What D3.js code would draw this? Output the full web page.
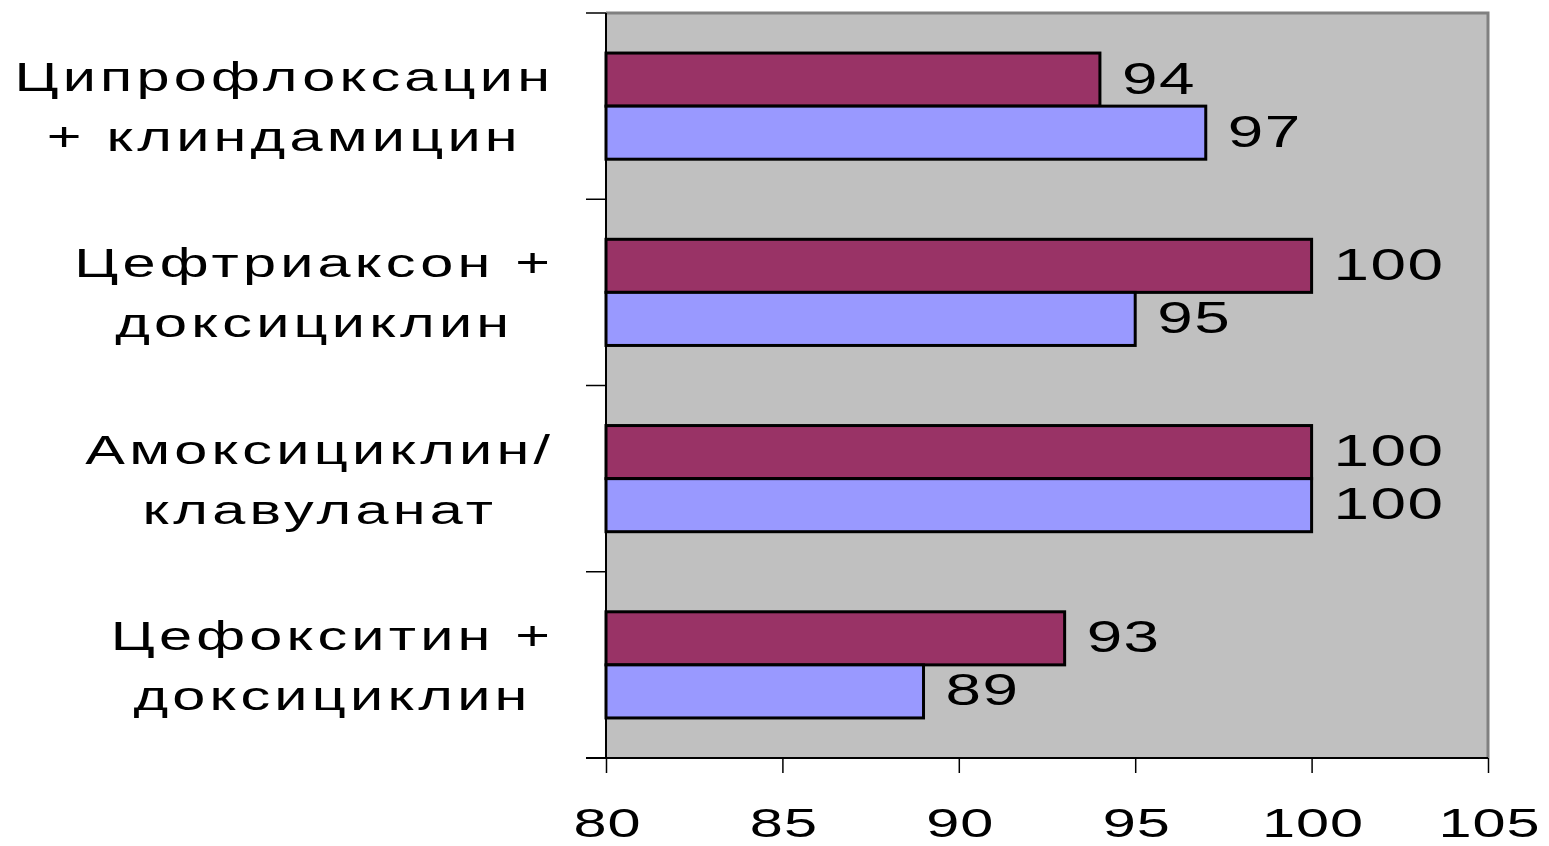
<!DOCTYPE html>
<html>
<head>
<meta charset="utf-8">
<script src="https://cdn.jsdelivr.net/npm/d3@7"></script>
<style>
  html, body { margin: 0; padding: 0; background: #ffffff; }
  svg { display: block; }
  text { font-family: Arial, "Liberation Sans", sans-serif; fill: #000; }
</style>
</head>
<body>
<svg id="chart" width="1549" height="846"></svg>
<script>
// Regimens (each label is split over two lines)
const categories = [
  ["Ципрофлоксацин", "+ клиндамицин"],
  ["Цефтриаксон +", "доксициклин"],
  ["Амоксициклин/", "клавуланат"],
  ["Цефокситин +", "доксициклин"]
];
const seriesNames = ["Серия 1", "Серия 2"];
const series1 = [94, 100, 100, 93];
const series2 = [97, 95, 100, 89];
const xTicks = [80, 85, 90, 95, 100, 105];
const seriesColors = ["#993366", "#9999FF"];

const plot = { left: 606, right: 1488, top: 13, bottom: 758 };
const SX = 1.45;            // horizontal stretch of all lettering

const svg = d3.select("#chart");

const keys = categories.map(c => c.join(" "));
const x = d3.scaleLinear().domain([80, 105]).range([plot.left, plot.right]);
const y = d3.scaleBand().domain(keys).range([plot.top, plot.bottom])
  .paddingInner(0.43).paddingOuter(0.215);
const ySub = d3.scaleBand().domain(seriesNames).range([0, y.bandwidth()]);

const rows = keys.map((k, i) => ({
  key: k, lines: categories[i],
  values: [series1[i], series2[i]]
}));

// stretched text helper: letter spacing given in screen pixels
function stretchedText(sel, tx, ty, str, size, anchor, spacing) {
  const g = sel.append("g").attr("transform", `translate(${tx},${ty}) scale(${SX},1)`);
  return g.append("text").attr("text-anchor", anchor || "start")
    .attr("font-size", size)
    .attr("letter-spacing", (spacing || 0) / SX)
    .text(str);
}

// plot area background
svg.append("rect")
  .attr("x", plot.left).attr("y", plot.top)
  .attr("width", plot.right - plot.left).attr("height", plot.bottom - plot.top)
  .attr("fill", "#C0C0C0");

// grey frame on top and right
svg.append("path")
  .attr("d", `M${plot.left},${plot.top}H${plot.right}V${plot.bottom}`)
  .attr("fill", "none").attr("stroke", "#808080").attr("stroke-width", 3);

// bars
const groups = svg.append("g").selectAll("g").data(rows).join("g")
  .attr("transform", d => `translate(0,${y(d.key)})`);

groups.selectAll("rect")
  .data(d => d.values.map((v, j) => ({ v, s: seriesNames[j], j })))
  .join("rect")
  .attr("x", x(80))
  .attr("y", d => ySub(d.s))
  .attr("width", d => x(d.v) - x(80))
  .attr("height", ySub.bandwidth())
  .attr("fill", d => seriesColors[d.j])
  .attr("stroke", "#000").attr("stroke-width", 3);

// value labels
rows.forEach(r => {
  r.values.forEach((v, j) => {
    const cy = y(r.key) + ySub(seriesNames[j]) + ySub.bandwidth() / 2;
    stretchedText(svg, x(v) + 22, cy + 14, String(v), 44, "start", 1.5);
  });
});

// left axis: line and ticks at band boundaries
const yAxis = svg.append("g");
yAxis.append("line")
  .attr("x1", plot.left).attr("x2", plot.left)
  .attr("y1", plot.top).attr("y2", plot.bottom)
  .attr("stroke", "#000").attr("stroke-width", 2);
const bounds = keys.map(k => y(k) - y.step() * y.paddingInner() / 2).concat([plot.bottom]);
bounds[0] = plot.top;
yAxis.selectAll("line.tick").data(bounds).join("line")
  .attr("class", "tick")
  .attr("x1", plot.left - 20).attr("x2", plot.left)
  .attr("y1", d => d).attr("y2", d => d)
  .attr("stroke", "#000").attr("stroke-width", 1.5);

// category labels: two centred lines, block right-aligned to x = 550
const LS = 4.2;
rows.forEach(r => {
  const cy = y(r.key) + y.bandwidth() / 2;
  const tmp = r.lines.map(ln => stretchedText(svg, 0, 0, ln, 41, "middle", LS));
  const widths = tmp.map(t => (t.node().getComputedTextLength() - LS / SX) * SX);
  tmp.forEach(t => t.node().parentNode.remove());
  const maxW = d3.max(widths);
  const cx = 550 - maxW / 2 + LS / 2;
  r.lines.forEach((ln, i) => {
    stretchedText(svg, cx, cy + (i === 0 ? -15 : 45), ln, 41, "middle", LS);
  });
});

// bottom axis
const xAxis = d3.axisBottom(x).tickValues(xTicks).tickSize(15).tickSizeOuter(0).tickFormat(d3.format("d"));
const gx = svg.append("g").attr("transform", `translate(0,${plot.bottom})`).call(xAxis);
gx.select(".domain").remove();
gx.selectAll(".tick line").attr("stroke", "#000").attr("stroke-width", 1.5);
gx.selectAll(".tick text").remove();
gx.append("line")
  .attr("x1", plot.left - 20).attr("x2", plot.right)
  .attr("y1", 0).attr("y2", 0)
  .attr("stroke", "#000").attr("stroke-width", 2);
gx.selectAll(".tick").each(function(d) {
  stretchedText(d3.select(this), 1, 79, String(d), 41, "middle", 1);
});
</script>
</body>
</html>
